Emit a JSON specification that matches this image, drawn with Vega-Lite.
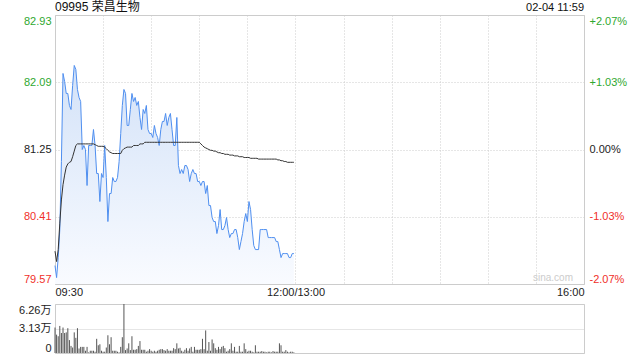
{
  "$schema": "https://vega.github.io/schema/vega-lite/v6.json",
  "autosize": {"type": "pad"},
  "padding": {"left": 18, "top": 0, "right": 0, "bottom": 0},
  "bounds": "flush",
  "spacing": 20,
  "config": {
    "font": "Liberation Sans, Noto Sans CJK SC",
    "view": {"stroke": "#cccccc"},
    "axis": {"labelFont": "Liberation Sans", "labelFontSize": 11, "labelColor": "#222222", "ticks": false, "domain": false, "title": null}
  },
  "data": {"values": [
    {"m":0,"p":79.80,"a":79.98,"v":32530},{"m":1,"p":79.65,"a":79.85,"v":23470},{"m":2,"p":79.90,"a":80.00,"v":21410},{"m":3,"p":80.25,"a":80.33,"v":34590},{"m":4,"p":81.10,"a":80.62,"v":25530},
    {"m":5,"p":82.20,"a":80.81,"v":32530},{"m":6,"p":82.10,"a":80.93,"v":25530},{"m":7,"p":81.95,"a":81.03,"v":26360},{"m":8,"p":81.95,"a":81.07,"v":31710},{"m":9,"p":81.80,"a":81.09,"v":16470},
    {"m":10,"p":81.75,"a":81.10,"v":9060},{"m":11,"p":82.05,"a":81.16,"v":7000},{"m":12,"p":82.30,"a":81.23,"v":26360},{"m":13,"p":82.25,"a":81.30,"v":19350},{"m":14,"p":82.00,"a":81.32,"v":31710},
    {"m":15,"p":81.90,"a":81.32,"v":5770},{"m":16,"p":81.85,"a":81.32,"v":7820},{"m":17,"p":81.25,"a":81.32,"v":7820},{"m":18,"p":81.30,"a":81.32,"v":7820},{"m":19,"p":81.25,"a":81.32,"v":2880},
    {"m":20,"p":80.80,"a":81.32,"v":7820},{"m":21,"p":81.30,"a":81.32,"v":820},{"m":22,"p":81.30,"a":81.32,"v":2880},{"m":23,"p":81.30,"a":81.32,"v":2880},{"m":24,"p":81.50,"a":81.32,"v":2880},
    {"m":25,"p":81.30,"a":81.31,"v":1650},{"m":26,"p":80.95,"a":81.30,"v":18120},{"m":27,"p":80.95,"a":81.29,"v":9880},{"m":28,"p":80.60,"a":81.29,"v":11120},{"m":29,"p":80.95,"a":81.29,"v":2880},
    {"m":30,"p":80.90,"a":81.29,"v":1650},{"m":31,"p":81.30,"a":81.28,"v":1650},{"m":32,"p":80.90,"a":81.26,"v":7000},{"m":33,"p":80.35,"a":81.24,"v":22650},{"m":34,"p":80.70,"a":81.22,"v":11120},
    {"m":35,"p":80.70,"a":81.21,"v":20180},{"m":36,"p":80.90,"a":81.20,"v":2880},{"m":37,"p":80.85,"a":81.20,"v":2880},{"m":38,"p":80.85,"a":81.20,"v":2880},{"m":39,"p":80.90,"a":81.20,"v":1650},
    {"m":40,"p":81.10,"a":81.20,"v":820},{"m":41,"p":81.45,"a":81.20,"v":7820},{"m":42,"p":81.80,"a":81.24,"v":20180},{"m":43,"p":82.00,"a":81.26,"v":62600},{"m":44,"p":81.95,"a":81.27,"v":3710},
    {"m":45,"p":81.55,"a":81.28,"v":5770},{"m":46,"p":81.55,"a":81.28,"v":12350},{"m":47,"p":81.75,"a":81.28,"v":3710},{"m":48,"p":81.95,"a":81.28,"v":21410},{"m":49,"p":81.85,"a":81.30,"v":4120},
    {"m":50,"p":81.90,"a":81.30,"v":4120},{"m":51,"p":81.80,"a":81.30,"v":4940},{"m":52,"p":81.85,"a":81.30,"v":9060},{"m":53,"p":81.65,"a":81.32,"v":15240},{"m":54,"p":81.50,"a":81.32,"v":4120},
    {"m":55,"p":81.75,"a":81.32,"v":4120},{"m":56,"p":81.70,"a":81.34,"v":4120},{"m":57,"p":81.80,"a":81.34,"v":1650},{"m":58,"p":81.50,"a":81.34,"v":2880},{"m":59,"p":81.45,"a":81.34,"v":4940},
    {"m":60,"p":81.45,"a":81.34,"v":2880},{"m":61,"p":81.40,"a":81.34,"v":1650},{"m":62,"p":81.55,"a":81.34,"v":2880},{"m":63,"p":81.45,"a":81.34,"v":1650},{"m":64,"p":81.40,"a":81.34,"v":2880},
    {"m":65,"p":81.30,"a":81.34,"v":4120},{"m":66,"p":81.50,"a":81.34,"v":4940},{"m":67,"p":81.60,"a":81.34,"v":4940},{"m":68,"p":81.60,"a":81.34,"v":3710},{"m":69,"p":81.70,"a":81.34,"v":2880},
    {"m":70,"p":81.55,"a":81.34,"v":4940},{"m":71,"p":81.65,"a":81.34,"v":2880},{"m":72,"p":81.70,"a":81.34,"v":2880},{"m":73,"p":81.50,"a":81.34,"v":2880},{"m":74,"p":81.30,"a":81.34,"v":6180},
    {"m":75,"p":81.30,"a":81.34,"v":4940},{"m":76,"p":81.65,"a":81.34,"v":12350},{"m":77,"p":81.05,"a":81.34,"v":5770},{"m":78,"p":80.95,"a":81.34,"v":6590},{"m":79,"p":81.00,"a":81.34,"v":2880},
    {"m":80,"p":80.95,"a":81.34,"v":1650},{"m":81,"p":81.05,"a":81.34,"v":4120},{"m":82,"p":81.05,"a":81.34,"v":6180},{"m":83,"p":81.00,"a":81.34,"v":2880},{"m":84,"p":80.85,"a":81.34,"v":5770},
    {"m":85,"p":80.95,"a":81.34,"v":7820},{"m":86,"p":81.00,"a":81.34,"v":1650},{"m":87,"p":80.95,"a":81.34,"v":7820},{"m":88,"p":80.95,"a":81.34,"v":4120},{"m":89,"p":80.85,"a":81.34,"v":4120},
    {"m":90,"p":80.85,"a":81.34,"v":4120},{"m":91,"p":80.80,"a":81.32,"v":4940},{"m":92,"p":80.85,"a":81.30,"v":18120},{"m":93,"p":80.85,"a":81.28,"v":4940},{"m":94,"p":80.70,"a":81.27,"v":28830},
    {"m":95,"p":80.80,"a":81.26,"v":2880},{"m":96,"p":80.55,"a":81.25,"v":14000},{"m":97,"p":80.55,"a":81.24,"v":2880},{"m":98,"p":80.40,"a":81.24,"v":17300},{"m":99,"p":80.35,"a":81.23,"v":12350},
    {"m":100,"p":80.35,"a":81.23,"v":6180},{"m":101,"p":80.20,"a":81.22,"v":4120},{"m":102,"p":80.30,"a":81.21,"v":7820},{"m":103,"p":80.50,"a":81.21,"v":4940},{"m":104,"p":80.25,"a":81.20,"v":7820},
    {"m":105,"p":80.25,"a":81.20,"v":9060},{"m":106,"p":80.30,"a":81.19,"v":6180},{"m":107,"p":80.40,"a":81.19,"v":1650},{"m":108,"p":80.25,"a":81.19,"v":2880},{"m":109,"p":80.15,"a":81.18,"v":4940},
    {"m":110,"p":80.20,"a":81.18,"v":12350},{"m":111,"p":80.20,"a":81.18,"v":2880},{"m":112,"p":80.25,"a":81.17,"v":7820},{"m":113,"p":80.25,"a":81.17,"v":1650},{"m":114,"p":80.15,"a":81.17,"v":1650},
    {"m":115,"p":80.00,"a":81.16,"v":9060},{"m":116,"p":80.10,"a":81.16,"v":1650},{"m":117,"p":80.20,"a":81.16,"v":1650},{"m":118,"p":80.35,"a":81.15,"v":12350},{"m":119,"p":80.45,"a":81.15,"v":4940},
    {"m":120,"p":80.35,"a":81.15,"v":1650},{"m":121,"p":80.60,"a":81.15,"v":2880},{"m":122,"p":80.50,"a":81.14,"v":2880},{"m":123,"p":80.25,"a":81.14,"v":1650},{"m":124,"p":80.05,"a":81.14,"v":820},
    {"m":125,"p":80.00,"a":81.14,"v":9880},{"m":126,"p":80.00,"a":81.14,"v":1650},{"m":127,"p":80.00,"a":81.13,"v":1650},{"m":128,"p":80.25,"a":81.13,"v":1650},{"m":129,"p":80.25,"a":81.13,"v":2470},
    {"m":130,"p":80.25,"a":81.13,"v":1650},{"m":131,"p":80.25,"a":81.13,"v":1650},{"m":132,"p":80.25,"a":81.13,"v":820},{"m":133,"p":80.15,"a":81.13,"v":1650},{"m":134,"p":80.15,"a":81.13,"v":1650},
    {"m":135,"p":80.15,"a":81.13,"v":820},{"m":136,"p":80.15,"a":81.13,"v":2470},{"m":137,"p":80.15,"a":81.13,"v":1650},{"m":138,"p":80.10,"a":81.13,"v":1650},{"m":139,"p":80.10,"a":81.12,"v":1650},
    {"m":140,"p":80.00,"a":81.12,"v":12350},{"m":141,"p":79.90,"a":81.11,"v":9880},{"m":142,"p":79.95,"a":81.11,"v":1650},{"m":143,"p":79.95,"a":81.10,"v":1650},{"m":144,"p":79.95,"a":81.10,"v":3710},
    {"m":145,"p":79.95,"a":81.09,"v":1650},{"m":146,"p":79.90,"a":81.09,"v":820},{"m":147,"p":79.90,"a":81.09,"v":1650},{"m":148,"p":79.95,"a":81.09,"v":1650},{"m":149,"p":79.95,"a":81.09,"v":820}
  ]},
  "vconcat": [
    {
      "width": 529,
      "height": 269,
      "layer": [
        {
          "mark": {"type": "area", "interpolate": "linear", "color": {"gradient": "linear", "x1": 0, "y1": 0, "x2": 0, "y2": 1, "stops": [{"offset": 0, "color": "#d3e2f8"}, {"offset": 1, "color": "#f9fbff"}]}},
          "encoding": {
            "x": {"field": "m", "type": "quantitative", "scale": {"domain": [0, 330], "nice": false, "zero": false},
              "axis": {"values": [0, 30, 60, 90, 120, 150, 180, 210, 240, 270, 300, 330], "grid": true, "gridColor": "#cccccc", "gridDash": [1, 2], "labelFlush": true, "labelOverlap": false, "labelPadding": 2,
                "labelExpr": "datum.value == 0 ? '09:30' : datum.value == 150 ? '12:00/13:00' : datum.value == 330 ? '16:00' : ''"}},
            "y": {"field": "p", "type": "quantitative", "scale": {"domain": [79.57, 82.93], "nice": false, "zero": false},
              "axis": {"orient": "left", "values": [79.57, 80.41, 81.25, 82.09, 82.93], "format": ".2f", "grid": true, "gridColor": "#cccccc", "gridDash": [1, 2], "labelFlush": true, "labelPadding": 4,
                "labelColor": {"condition": [{"test": "datum.value > 81.3", "value": "#2fa82f"}, {"test": "datum.value < 81.2", "value": "#f0302a"}], "value": "#222222"}}},
            "y2": {"datum": 79.57}
          }
        },
        {
          "mark": {"type": "line", "color": "#4f8ff0", "strokeWidth": 1, "interpolate": "linear"},
          "encoding": {
            "x": {"field": "m", "type": "quantitative"},
            "y": {"field": "p", "type": "quantitative", "axis": null}
          }
        },
        {
          "mark": {"type": "line", "color": "#333333", "strokeWidth": 1, "interpolate": "linear"},
          "encoding": {
            "x": {"field": "m", "type": "quantitative"},
            "y": {"field": "a", "type": "quantitative",
              "axis": {"orient": "right", "values": [79.57, 80.41, 81.25, 82.09, 82.93], "grid": false, "labelFlush": true, "labelPadding": 5,
                "labelExpr": "datum.value == 81.25 ? '0.00%' : (datum.value > 81.25 ? '+' : '-') + format(abs(datum.value / 81.25 - 1) * 100, '.2f') + '%'",
                "labelColor": {"condition": [{"test": "datum.value > 81.3", "value": "#2fa82f"}, {"test": "datum.value < 81.2", "value": "#f0302a"}], "value": "#222222"}}}
          }
        },
        {
          "data": {"values": [{"t": "09995 荣昌生物"}]},
          "mark": {"type": "text", "align": "left", "baseline": "bottom", "dy": -1, "fontSize": 12, "color": "#111111", "font": "Liberation Sans, Noto Sans CJK SC"},
          "encoding": {
            "x": {"datum": 0},
            "y": {"datum": 82.93, "axis": null},
            "text": {"field": "t"}
          }
        },
        {
          "data": {"values": [{"t": "02-04 11:59"}]},
          "mark": {"type": "text", "align": "right", "baseline": "bottom", "dy": -2, "fontSize": 11, "color": "#111111"},
          "encoding": {
            "x": {"datum": 330},
            "y": {"datum": 82.93, "axis": null},
            "text": {"field": "t"}
          }
        },
        {
          "data": {"values": [{"t": "sina.com"}]},
          "mark": {"type": "text", "align": "right", "baseline": "bottom", "dx": -11, "dy": -1, "fontSize": 10, "color": "#cccccc"},
          "encoding": {
            "x": {"datum": 330},
            "y": {"datum": 79.57, "axis": null},
            "text": {"field": "t"}
          }
        }
      ],
      "resolve": {"axis": {"y": "independent"}}
    },
    {
      "width": 529,
      "height": 49,
      "mark": {"type": "rule", "color": "#555555", "strokeWidth": 1},
      "encoding": {
        "x": {"field": "m", "type": "quantitative", "scale": {"domain": [0, 330], "nice": false, "zero": false}, "axis": null},
        "y": {"field": "v", "type": "quantitative", "scale": {"domain": [0, 62600], "nice": false},
          "axis": {"values": [0, 31300, 62600], "grid": true, "gridColor": "#cccccc", "gridDash": [1, 1], "labelFlush": true, "labelPadding": 4,
            "labelExpr": "datum.value == 0 ? '0' : format(datum.value / 10000, '.2f') + '万'", "labelFont": "Liberation Sans, Noto Sans CJK SC"}},
        "y2": {"datum": 0}
      }
    }
  ]
}
